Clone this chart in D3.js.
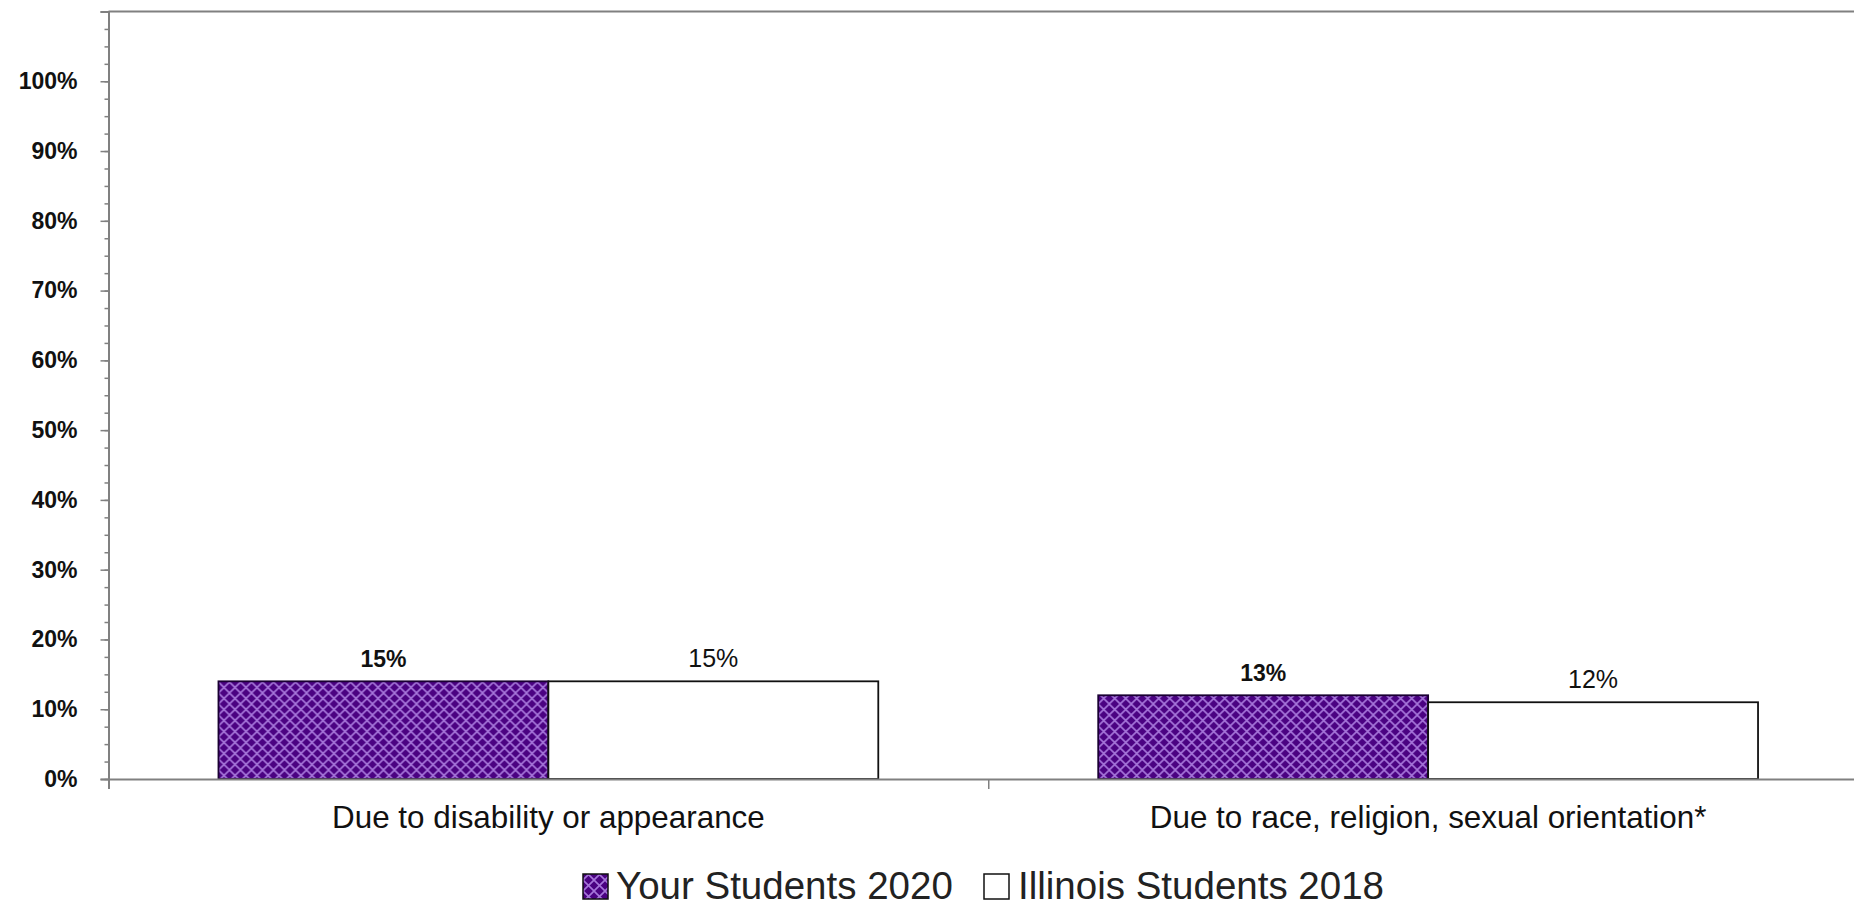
<!DOCTYPE html>
<html>
<head>
<meta charset="utf-8">
<script src="https://cdn.jsdelivr.net/npm/d3@7"></script>
<style>
  html, body { margin: 0; padding: 0; background: #ffffff; }
  svg { display: block; font-family: "Liberation Sans", Arial, sans-serif; }
</style>
</head>
<body>
<svg id="chart" width="1854" height="906"></svg>
<script>
// ---- data ----
const categories = ["Due to disability or appearance", "Due to race, religion, sexual orientation*"];
const seriesNames = ["Your Students 2020", "Illinois Students 2018"];
const yourValues = [14, 12];
const illinoisValues = [14, 11];
const yourLabels = ["15%", "13%"];
const illinoisLabels = ["15%", "12%"];
const yMajorTicks = [0, 10, 20, 30, 40, 50, 60, 70, 80, 90, 100, 110];
const yLabelTicks = [0, 10, 20, 30, 40, 50, 60, 70, 80, 90, 100];
const yMinorTicks = d3.range(0, 110.01, 2.5);

// ---- layout ----
const W = 1854, H = 906;
const plotLeft = 108.5, plotTop = 11.5, zeroY = 779, plotRight = 1868;
const svg = d3.select("#chart");

const defs = svg.append("defs");
const pat = defs.append("pattern")
  .attr("id", "hatch").attr("patternUnits", "userSpaceOnUse")
  .attr("width", 11).attr("height", 11);
pat.append("rect").attr("width", 11).attr("height", 11).attr("fill", "#4b0282");
pat.append("path").attr("d", "M0,0 L11,11 M11,0 L0,11")
  .attr("stroke", "#a676da").attr("stroke-width", 1.6).attr("fill", "none");

const y = d3.scaleLinear().domain([0, 110]).range([zeroY, plotTop]);
const x0 = d3.scaleBand().domain(categories).range([plotLeft, plotRight]).paddingInner(0).paddingOuter(0);
const x1 = d3.scaleBand().domain(seriesNames).range([0, x0.bandwidth()]).paddingInner(0).paddingOuter(1/3);
const xEdge = d3.scaleLinear().domain([0, categories.length]).range([plotLeft, plotRight]);

const axisColor = "#808080";

// top border
svg.append("line").attr("x1", plotLeft).attr("x2", W).attr("y1", plotTop).attr("y2", plotTop)
  .attr("stroke", axisColor).attr("stroke-width", 2);

// y minor ticks
const gMinor = svg.append("g").attr("transform", `translate(${plotLeft},0)`)
  .call(d3.axisLeft(y).tickValues(yMinorTicks).tickSize(4).tickFormat(""));
gMinor.select(".domain").remove();
gMinor.selectAll("line").attr("stroke", axisColor).attr("stroke-width", 1.5);

// y major ticks + labels
const gY = svg.append("g").attr("transform", `translate(${plotLeft},0)`)
  .call(d3.axisLeft(y).tickValues(yMajorTicks).tickSize(8).tickPadding(23)
    .tickFormat(d => yLabelTicks.includes(d) ? d + "%" : ""));
gY.select(".domain").attr("stroke", axisColor).attr("stroke-width", 2);
gY.selectAll("line").attr("stroke", axisColor).attr("stroke-width", 1.5);
gY.selectAll("text").attr("font-size", 23).attr("font-weight", "bold").attr("fill", "#111")
  .attr("font-family", "'Liberation Sans', Arial, sans-serif");

// bars
const data = categories.map((c, i) => ({ cat: c, vals: [
  { s: seriesNames[0], v: yourValues[i], label: yourLabels[i] },
  { s: seriesNames[1], v: illinoisValues[i], label: illinoisLabels[i] }
]}));

const groups = svg.append("g").selectAll("g").data(data).join("g")
  .attr("transform", d => `translate(${x0(d.cat)},0)`);

groups.selectAll("rect").data(d => d.vals).join("rect")
  .attr("x", d => x1(d.s))
  .attr("y", d => y(d.v))
  .attr("width", x1.bandwidth())
  .attr("height", d => y(0) - y(d.v))
  .attr("fill", (d, i) => i === 0 ? "url(#hatch)" : "#ffffff")
  .attr("stroke", (d, i) => i === 0 ? "#1a0033" : "#111")
  .attr("stroke-width", 1.8);

groups.selectAll("text").data(d => d.vals).join("text")
  .attr("x", d => x1(d.s) + x1.bandwidth() / 2)
  .attr("y", d => y(d.v) - 14)
  .attr("text-anchor", "middle")
  .attr("font-size", (d, i) => i === 0 ? 23 : 25)
  .attr("font-weight", (d, i) => i === 0 ? "bold" : "normal")
  .attr("fill", "#111")
  .text(d => d.label);

// x axis line and category separators
const gEdge = svg.append("g").attr("transform", `translate(0,${zeroY})`)
  .call(d3.axisBottom(xEdge).tickValues(d3.range(0, categories.length + 1)).tickSize(10).tickFormat(""));
gEdge.select(".domain").attr("stroke", axisColor).attr("stroke-width", 2);
gEdge.selectAll("line").attr("stroke", axisColor).attr("stroke-width", 1.5);

// x category labels
const gX = svg.append("g").attr("transform", `translate(0,${zeroY})`)
  .call(d3.axisBottom(x0).tickSize(0).tickPadding(27));
gX.select(".domain").remove();
gX.selectAll("text").attr("font-size", 31.4).attr("fill", "#111")
  .attr("font-family", "'Liberation Sans', Arial, sans-serif");

// legend
const legendItems = [
  { name: seriesNames[0], sx: 583, tx: 616, fill: "url(#hatch)" },
  { name: seriesNames[1], sx: 984, tx: 1018, fill: "#ffffff" }
];
const gL = svg.append("g");
gL.selectAll("rect").data(legendItems).join("rect")
  .attr("x", d => d.sx).attr("y", 874).attr("width", 25).attr("height", 25)
  .attr("fill", d => d.fill).attr("stroke", "#111").attr("stroke-width", 1.5);
gL.selectAll("text").data(legendItems).join("text")
  .attr("x", d => d.tx).attr("y", 899)
  .attr("font-size", 38.5).attr("fill", "#222")
  .text(d => d.name);
</script>
</body>
</html>
